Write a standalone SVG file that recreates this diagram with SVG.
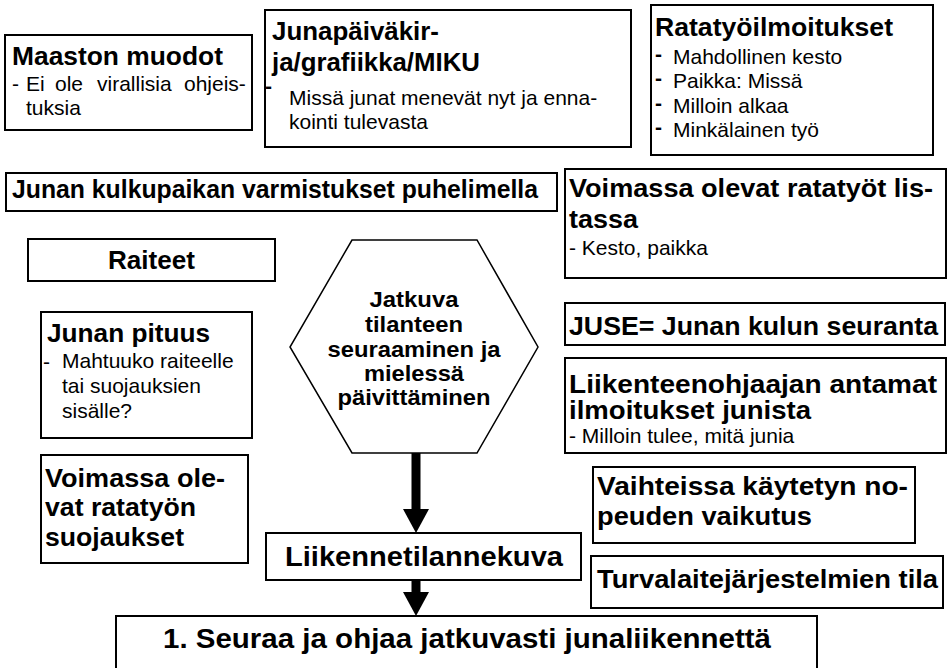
<svg xmlns="http://www.w3.org/2000/svg" width="947" height="668" viewBox="0 0 947 668">
<style>
.box{fill:#fff;stroke:#000;stroke-width:2}
.hex{fill:#fff;stroke:#000;stroke-width:1.5}
.t{font-family:"Liberation Sans",Arial,sans-serif;font-weight:bold;font-size:25px;fill:#000}
.b{font-family:"Liberation Sans",Arial,sans-serif;font-size:21px;fill:#000}
.d{font-family:"Liberation Sans",Arial,sans-serif;font-weight:bold;font-size:21px;fill:#000}
.h{font-family:"Liberation Sans",Arial,sans-serif;font-weight:bold;font-size:22px;fill:#000;text-anchor:middle}
.big{font-family:"Liberation Sans",Arial,sans-serif;font-weight:bold;font-size:27px;fill:#000}
.arr{fill:#000}
</style>
<rect width="947" height="668" fill="#fff"/>

<g id="maaston">
<rect class="box" x="5" y="35" width="247" height="95"/>
<text class="t" x="12" y="65" textLength="211" lengthAdjust="spacingAndGlyphs">Maaston muodot</text>
<text class="b" x="12" y="91">-</text>
<text class="b" x="26" y="91">Ei</text>
<text class="b" x="55" y="91">ole</text>
<text class="b" x="97" y="91">virallisia</text>
<text class="b" x="184" y="91">ohjeis-</text>
<text class="b" x="26" y="115">tuksia</text>
</g>

<g id="junapaivakirja">
<rect class="box" x="265" y="10" width="366" height="137"/>
<text class="t" x="272" y="40" textLength="167" lengthAdjust="spacingAndGlyphs">Junapäiväkir-</text>
<text class="t" x="272" y="71" textLength="208" lengthAdjust="spacingAndGlyphs">ja/grafiikka/MIKU</text>
<text class="d" x="265" y="93">-</text>
<text class="b" x="289" y="105">Missä junat menevät nyt ja enna-</text>
<text class="b" x="289" y="129">kointi tulevasta</text>
</g>

<g id="ratatyoilmoitukset">
<rect class="box" x="651" y="5" width="282" height="150"/>
<text class="t" x="655" y="36" textLength="238" lengthAdjust="spacingAndGlyphs">Ratatyöilmoitukset</text>
<text class="d" x="655" y="61">-</text>
<text class="b" x="673" y="64">Mahdollinen kesto</text>
<text class="d" x="655" y="85">-</text>
<text class="b" x="673" y="88">Paikka: Missä</text>
<text class="d" x="655" y="110">-</text>
<text class="b" x="673" y="113">Milloin alkaa</text>
<text class="d" x="655" y="134">-</text>
<text class="b" x="673" y="137">Minkälainen työ</text>
</g>

<g id="kulkupaikka">
<rect class="box" x="6" y="173" width="551" height="38"/>
<text class="t" x="12" y="198" textLength="526" lengthAdjust="spacingAndGlyphs">Junan kulkupaikan varmistukset puhelimella</text>
</g>

<g id="raiteet">
<rect class="box" x="28" y="239" width="247" height="42"/>
<text class="t" x="108" y="269" textLength="87" lengthAdjust="spacingAndGlyphs">Raiteet</text>
</g>

<g id="ratatyot-listassa">
<rect class="box" x="565" y="169" width="381" height="109"/>
<text class="t" x="569" y="197" textLength="364" lengthAdjust="spacingAndGlyphs">Voimassa olevat ratatyöt lis-</text>
<text class="t" x="569" y="228" textLength="69" lengthAdjust="spacingAndGlyphs">tassa</text>
<text class="b" x="569" y="255">- Kesto, paikka</text>
</g>

<g id="juse">
<rect class="box" x="565" y="303" width="380" height="42"/>
<text class="t" x="569" y="335" textLength="369" lengthAdjust="spacingAndGlyphs">JUSE= Junan kulun seuranta</text>
</g>

<g id="liikenteenohjaaja">
<rect class="box" x="565" y="358" width="381" height="95"/>
<text class="t" x="569" y="393" textLength="368" lengthAdjust="spacingAndGlyphs">Liikenteenohjaajan antamat</text>
<text class="t" x="569" y="419" textLength="242" lengthAdjust="spacingAndGlyphs">ilmoitukset junista</text>
<text class="b" x="569" y="443">- Milloin tulee, mitä junia</text>
</g>

<g id="junan-pituus">
<rect class="box" x="41" y="312" width="211" height="126"/>
<text class="t" x="47" y="342" textLength="163" lengthAdjust="spacingAndGlyphs">Junan pituus</text>
<text class="b" x="43" y="369">-</text>
<text class="b" x="62" y="368">Mahtuuko raiteelle</text>
<text class="b" x="62" y="393">tai suojauksien</text>
<text class="b" x="62" y="418">sisälle?</text>
</g>

<g id="suojaukset">
<rect class="box" x="41" y="455" width="207" height="108"/>
<text class="t" x="45" y="487" textLength="180" lengthAdjust="spacingAndGlyphs">Voimassa ole-</text>
<text class="t" x="45" y="516" textLength="151" lengthAdjust="spacingAndGlyphs">vat ratatyön</text>
<text class="t" x="45" y="546" textLength="139" lengthAdjust="spacingAndGlyphs">suojaukset</text>
</g>

<g id="vaihteet">
<rect class="box" x="593" y="467" width="322" height="76"/>
<text class="t" x="597" y="495" textLength="311" lengthAdjust="spacingAndGlyphs">Vaihteissa käytetyn no-</text>
<text class="t" x="597" y="525" textLength="215" lengthAdjust="spacingAndGlyphs">peuden vaikutus</text>
</g>

<g id="turvalaitteet">
<rect class="box" x="591" y="556" width="352" height="52"/>
<text class="t" x="597" y="588" textLength="341" lengthAdjust="spacingAndGlyphs">Turvalaitejärjestelmien tila</text>
</g>

<g id="jatkuva">
<polygon class="hex" points="352,240 477,240 538,347 477,453 352,453 290,347"/>
<text class="h" x="414" y="307" textLength="89" lengthAdjust="spacingAndGlyphs">Jatkuva</text>
<text class="h" x="414" y="332" textLength="98" lengthAdjust="spacingAndGlyphs">tilanteen</text>
<text class="h" x="414" y="357" textLength="173" lengthAdjust="spacingAndGlyphs">seuraaminen ja</text>
<text class="h" x="414" y="381" textLength="100" lengthAdjust="spacingAndGlyphs">mielessä</text>
<text class="h" x="414" y="405" textLength="153" lengthAdjust="spacingAndGlyphs">päivittäminen</text>
</g>

<g id="liikennetilannekuva">
<rect class="box" x="266" y="533" width="315" height="47"/>
<text class="big" x="285" y="566" textLength="278" lengthAdjust="spacingAndGlyphs">Liikennetilannekuva</text>
</g>

<g id="seuraa">
<rect class="box" x="116" y="616" width="701" height="60"/>
<text class="big" x="163" y="648" textLength="608" lengthAdjust="spacingAndGlyphs">1. Seuraa ja ohjaa jatkuvasti junaliikennettä</text>
</g>

<g id="connectors">
<rect class="arr" x="411.5" y="453" width="9" height="57"/>
<polygon class="arr" points="403,509 429,509 416,533"/>
<rect class="arr" x="411.5" y="580" width="9" height="13"/>
<polygon class="arr" points="403,592 429,592 416,616"/>
</g>
</svg>
